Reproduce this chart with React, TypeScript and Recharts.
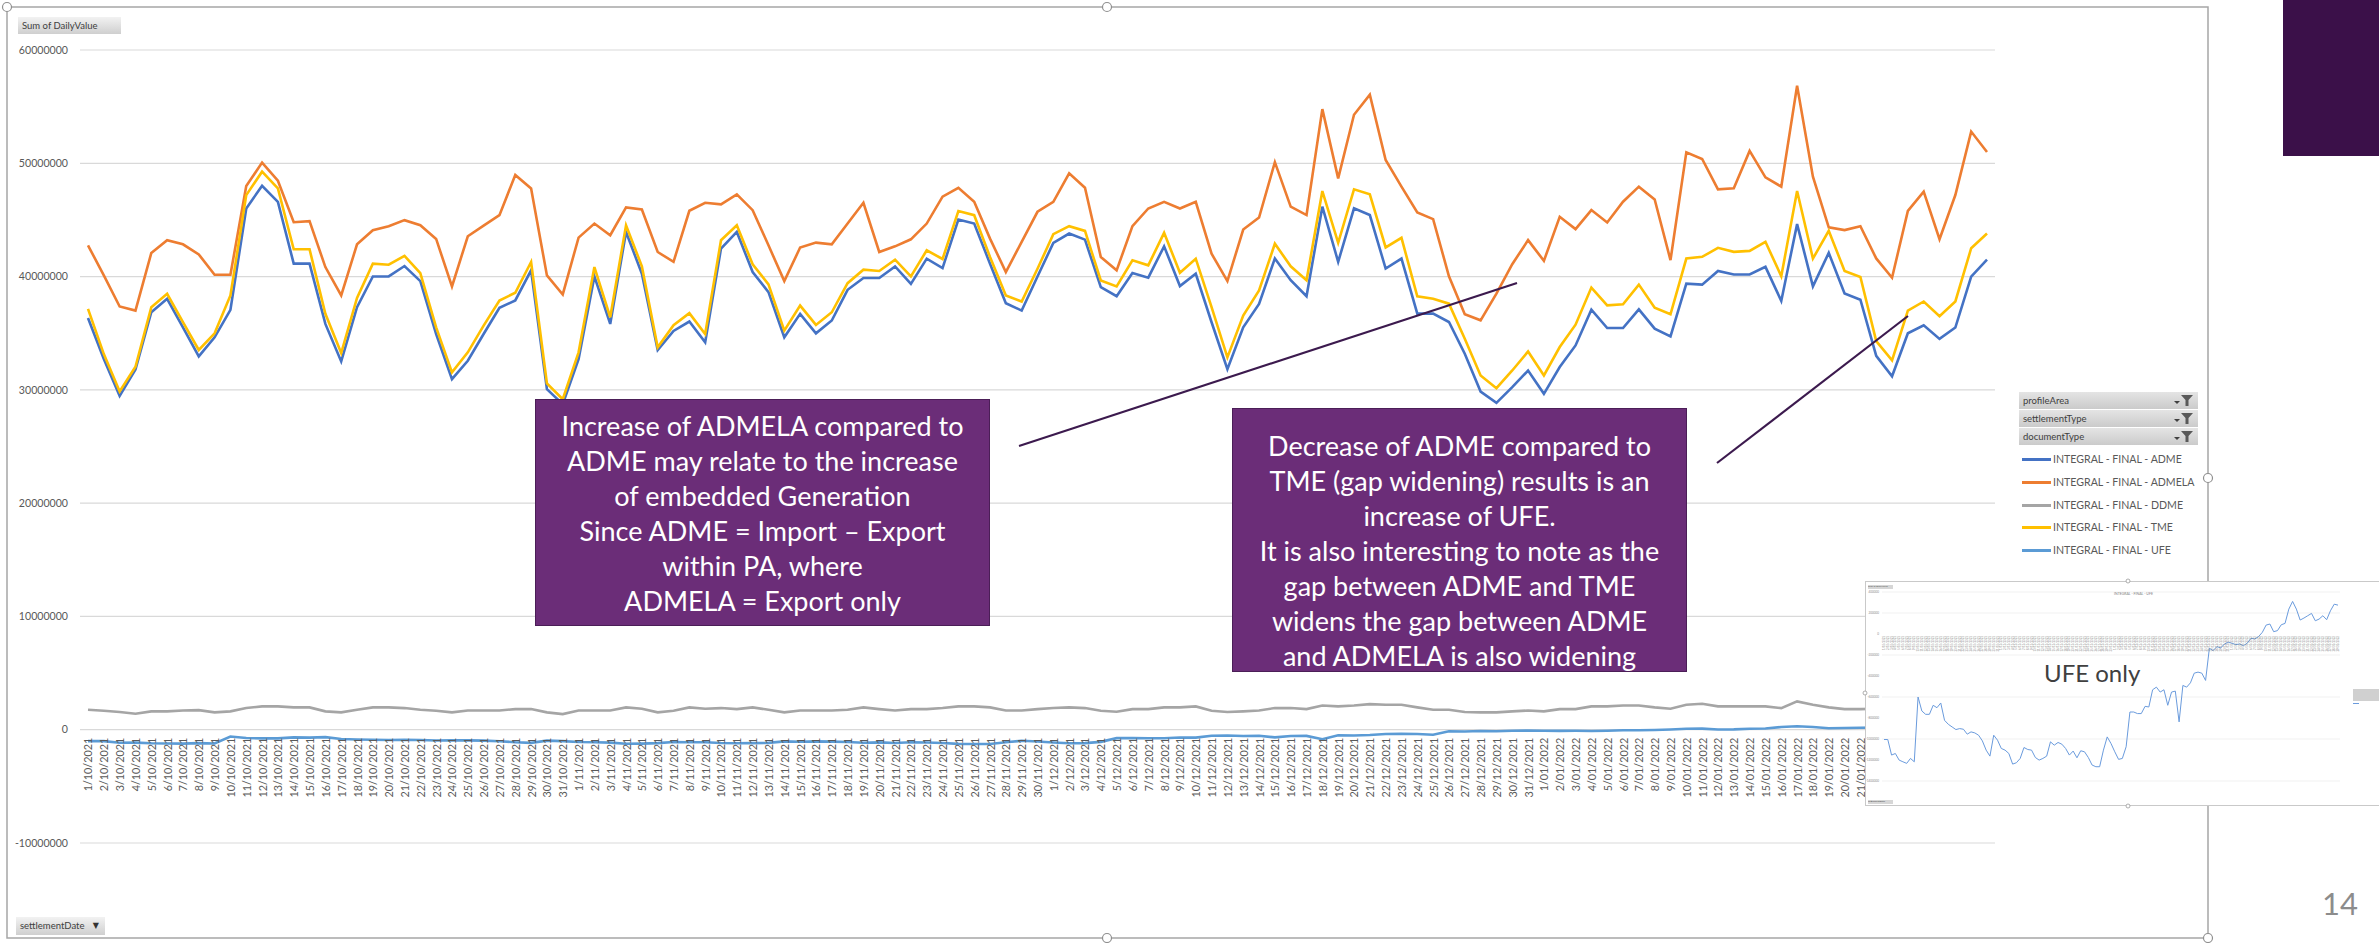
import React from 'react';
import { LineChart, Line, XAxis, YAxis, CartesianGrid } from 'recharts';

const FONT = 'Lato, "Open Sans", "DejaVu Sans", sans-serif';

const dates = [
  '1/10/2021','2/10/2021','3/10/2021','4/10/2021','5/10/2021','6/10/2021','7/10/2021','8/10/2021','9/10/2021','10/10/2021',
  '11/10/2021','12/10/2021','13/10/2021','14/10/2021','15/10/2021','16/10/2021','17/10/2021','18/10/2021','19/10/2021','20/10/2021',
  '21/10/2021','22/10/2021','23/10/2021','24/10/2021','25/10/2021','26/10/2021','27/10/2021','28/10/2021','29/10/2021','30/10/2021',
  '31/10/2021','1/11/2021','2/11/2021','3/11/2021','4/11/2021','5/11/2021','6/11/2021','7/11/2021','8/11/2021','9/11/2021',
  '10/11/2021','11/11/2021','12/11/2021','13/11/2021','14/11/2021','15/11/2021','16/11/2021','17/11/2021','18/11/2021','19/11/2021',
  '20/11/2021','21/11/2021','22/11/2021','23/11/2021','24/11/2021','25/11/2021','26/11/2021','27/11/2021','28/11/2021','29/11/2021',
  '30/11/2021','1/12/2021','2/12/2021','3/12/2021','4/12/2021','5/12/2021','6/12/2021','7/12/2021','8/12/2021','9/12/2021',
  '10/12/2021','11/12/2021','12/12/2021','13/12/2021','14/12/2021','15/12/2021','16/12/2021','17/12/2021','18/12/2021','19/12/2021',
  '20/12/2021','21/12/2021','22/12/2021','23/12/2021','24/12/2021','25/12/2021','26/12/2021','27/12/2021','28/12/2021','29/12/2021',
  '30/12/2021','31/12/2021','1/01/2022','2/01/2022','3/01/2022','4/01/2022','5/01/2022','6/01/2022','7/01/2022','8/01/2022',
  '9/01/2022','10/01/2022','11/01/2022','12/01/2022','13/01/2022','14/01/2022','15/01/2022','16/01/2022','17/01/2022','18/01/2022',
  '19/01/2022','20/01/2022','21/01/2022','22/01/2022','23/01/2022','24/01/2022','25/01/2022','26/01/2022','27/01/2022','28/01/2022',
  '29/01/2022',
];

const adme = [
  36.35e6,32.72e6,29.47e6,31.80e6,36.85e6,38.04e6,35.52e6,32.95e6,34.64e6,37.06e6,
  46.01e6,48.02e6,46.60e6,41.14e6,41.14e6,35.82e6,32.51e6,37.30e6,40.01e6,40.01e6,
  40.93e6,39.60e6,34.93e6,30.95e6,32.57e6,34.93e6,37.24e6,37.89e6,40.55e6,30.06e6,
  28.73e6,32.72e6,40.01e6,35.82e6,43.94e6,40.25e6,33.52e6,35.20e6,36.03e6,34.20e6,
  42.47e6,43.94e6,40.40e6,38.63e6,34.64e6,36.71e6,34.99e6,36.12e6,38.83e6,39.87e6,
  39.87e6,40.90e6,39.36e6,41.58e6,40.75e6,45.04e6,44.68e6,41.14e6,37.65e6,37.00e6,
  40.01e6,42.97e6,43.80e6,43.26e6,39.07e6,38.27e6,40.31e6,39.90e6,42.67e6,39.16e6,
  40.25e6,35.97e6,31.83e6,35.52e6,37.59e6,41.60e6,39.68e6,38.26e6,46.17e6,41.30e6,
  46.02e6,45.43e6,40.71e6,41.59e6,36.73e6,36.73e6,35.99e6,33.19e6,29.85e6,28.85e6,
  30.24e6,31.71e6,29.65e6,32.01e6,33.92e6,37.08e6,35.46e6,35.46e6,37.11e6,35.40e6,
  34.72e6,39.38e6,39.29e6,40.50e6,40.18e6,40.18e6,40.86e6,37.85e6,44.63e6,39.14e6,
  42.09e6,38.50e6,37.96e6,33.0e6,31.2e6,35.0e6,35.7e6,34.5e6,35.5e6,40.0e6,
  41.5e6,
];

const admela = [
  42.76e6,40.10e6,37.36e6,37.00e6,42.08e6,43.21e6,42.85e6,41.96e6,40.16e6,40.16e6,
  47.99e6,50.06e6,48.46e6,44.80e6,44.89e6,40.84e6,38.33e6,42.85e6,44.09e6,44.45e6,
  44.98e6,44.53e6,43.32e6,39.13e6,43.56e6,44.50e6,45.42e6,48.97e6,47.78e6,40.10e6,
  38.42e6,43.44e6,44.68e6,43.65e6,46.10e6,45.92e6,42.17e6,41.30e6,45.81e6,46.51e6,
  46.37e6,47.25e6,45.86e6,42.76e6,39.60e6,42.56e6,43.00e6,42.85e6,44.68e6,46.51e6,
  42.17e6,42.67e6,43.29e6,44.68e6,47.05e6,47.84e6,46.60e6,43.35e6,40.40e6,43.06e6,
  45.72e6,46.60e6,49.11e6,47.84e6,41.73e6,40.55e6,44.45e6,46.01e6,46.60e6,46.01e6,
  46.60e6,42.02e6,39.60e6,44.15e6,45.21e6,50.10e6,46.17e6,45.43e6,54.78e6,48.67e6,
  54.28e6,56.05e6,50.29e6,47.94e6,45.66e6,45.07e6,40.03e6,36.67e6,36.14e6,38.50e6,
  41.09e6,43.22e6,41.39e6,45.28e6,44.19e6,45.87e6,44.78e6,46.61e6,47.94e6,46.81e6,
  41.45e6,50.97e6,50.38e6,47.70e6,47.79e6,51.09e6,48.76e6,47.94e6,56.84e6,48.82e6,
  44.34e6,44.10e6,44.45e6,41.6e6,39.9e6,45.8e6,47.5e6,43.3e6,47.2e6,52.8e6,
  51.0e6,
];

const ddme = [
  1.76e6,1.67e6,1.56e6,1.41e6,1.62e6,1.62e6,1.70e6,1.73e6,1.53e6,1.62e6,
  1.91e6,2.06e6,2.06e6,1.97e6,1.97e6,1.62e6,1.53e6,1.76e6,1.97e6,1.97e6,
  1.91e6,1.76e6,1.67e6,1.53e6,1.70e6,1.70e6,1.70e6,1.82e6,1.82e6,1.53e6,
  1.38e6,1.70e6,1.70e6,1.70e6,1.97e6,1.85e6,1.53e6,1.67e6,1.97e6,1.85e6,
  1.91e6,1.82e6,1.97e6,1.76e6,1.53e6,1.70e6,1.70e6,1.70e6,1.76e6,1.97e6,
  1.82e6,1.70e6,1.82e6,1.82e6,1.91e6,2.06e6,2.06e6,1.97e6,1.70e6,1.70e6,
  1.82e6,1.91e6,1.97e6,1.91e6,1.67e6,1.59e6,1.82e6,1.82e6,1.97e6,1.97e6,
  2.06e6,1.67e6,1.56e6,1.62e6,1.70e6,1.91e6,1.91e6,1.82e6,2.14e6,2.06e6,
  2.14e6,2.26e6,2.20e6,2.20e6,1.97e6,1.76e6,1.76e6,1.56e6,1.53e6,1.53e6,
  1.62e6,1.70e6,1.62e6,1.82e6,1.82e6,2.06e6,2.06e6,2.14e6,2.14e6,1.97e6,
  1.85e6,2.20e6,2.29e6,2.06e6,2.06e6,2.06e6,2.06e6,1.91e6,2.50e6,2.20e6,
  1.97e6,1.82e6,1.82e6,1.85e6,1.90e6,1.95e6,2.00e6,1.90e6,1.85e6,1.80e6,
  1.80e6,
];

const tme = [
  37.15e6,33.16e6,29.85e6,32.04e6,37.30e6,38.48e6,35.97e6,33.52e6,34.99e6,38.33e6,
  47.19e6,49.26e6,47.78e6,42.41e6,42.41e6,36.71e6,33.25e6,38.12e6,41.14e6,41.05e6,
  41.82e6,40.31e6,35.52e6,31.54e6,33.31e6,35.67e6,37.89e6,38.57e6,41.29e6,30.56e6,
  29.17e6,33.31e6,40.84e6,36.41e6,44.53e6,40.90e6,33.75e6,35.70e6,36.77e6,34.93e6,
  43.21e6,44.53e6,41.08e6,39.31e6,35.23e6,37.44e6,35.73e6,36.85e6,39.42e6,40.61e6,
  40.49e6,41.49e6,40.01e6,42.32e6,41.55e6,45.78e6,45.42e6,41.73e6,38.33e6,37.80e6,
  40.69e6,43.74e6,44.45e6,44.03e6,39.66e6,39.13e6,41.43e6,40.99e6,43.86e6,40.34e6,
  41.58e6,37.30e6,32.87e6,36.56e6,38.77e6,42.90e6,40.91e6,39.68e6,47.55e6,42.98e6,
  47.70e6,47.26e6,42.57e6,43.42e6,38.26e6,38.05e6,37.61e6,34.51e6,31.27e6,30.15e6,
  31.71e6,33.39e6,31.27e6,33.78e6,35.75e6,39.03e6,37.46e6,37.55e6,39.29e6,37.26e6,
  36.67e6,41.59e6,41.74e6,42.54e6,42.18e6,42.27e6,43.07e6,40.03e6,47.55e6,41.59e6,
  44.04e6,40.50e6,39.97e6,34.3e6,32.6e6,37.0e6,37.8e6,36.5e6,37.8e6,42.5e6,
  43.8e6,
];

const ufe = [
  -1005e3,-1005e3,-1153e3,-1138e3,-1201e3,-1217e3,-1232e3,-1185e3,-1217e3,-600e3,
  -733e3,-765e3,-765e3,-679e3,-702e3,-657e3,-822e3,-860e3,-885e3,-910e3,
  -901e3,-907e3,-954e3,-932e3,-942e3,-964e3,-1018e3,-1106e3,-1163e3,-964e3,
  -1011e3,-1090e3,-1106e3,-1138e3,-1239e3,-1226e3,-1185e3,-1081e3,-1100e3,-1106e3,
  -1176e3,-1201e3,-1185e3,-1163e3,-1027e3,-1059e3,-1033e3,-1049e3,-1090e3,-1153e3,
  -1115e3,-1179e3,-1112e3,-1122e3,-1176e3,-1248e3,-1264e3,-1264e3,-1106e3,-980e3,
  -1043e3,-1122e3,-1194e3,-1185e3,-1074e3,-743e3,-743e3,-758e3,-758e3,-689e3,
  -695e3,-531e3,-506e3,-553e3,-531e3,-679e3,-553e3,-544e3,-837e3,-490e3,
  -506e3,-465e3,-373e3,-363e3,-373e3,-442e3,-136e3,-158e3,-120e3,-133e3,
  -95e3,-79e3,-88e3,-101e3,-95e3,-111e3,-88e3,-41e3,-47e3,-25e3,
  16e3,85e3,95e3,22e3,32e3,88e3,101e3,237e3,310e3,237e3,
  133e3,152e3,174e3,196e3,126e3,142e3,174e3,136e3,221e3,284e3,
  275e3,
];

const yTicks = [60000000, 50000000, 40000000, 30000000, 20000000, 10000000, 0, -10000000];
const insetTicks = [400000, 200000, 0, -200000, -400000, -600000, -800000, -1000000, -1200000, -1400000];

const seriesKeys = ['adme', 'admela', 'ddme', 'tme', 'ufe'];
const seriesNames = [
  'INTEGRAL - FINAL - ADME',
  'INTEGRAL - FINAL - ADMELA',
  'INTEGRAL - FINAL - DDME',
  'INTEGRAL - FINAL - TME',
  'INTEGRAL - FINAL - UFE',
];
const seriesColors = ['#4472C4', '#ED7D31', '#A5A5A5', '#FFC000', '#5B9BD5'];
const filterFields = ['profileArea', 'settlementType', 'documentType'];

const note1 = [
  'Increase of ADMELA compared to',
  'ADME may relate to the increase',
  'of embedded Generation',
  'Since ADME = Import \u2013 Export',
  'within PA, where',
  'ADMELA = Export only',
];
const note2 = [
  'Decrease of ADME compared to',
  'TME (gap widening) results is an',
  'increase of UFE.',
  'It is also interesting to note as the',
  'gap between ADME and TME',
  'widens the gap between ADME',
  'and ADMELA is also widening',
];

const rows = dates.map((d, i) => ({
  date: d,
  adme: adme[i],
  admela: admela[i],
  ddme: ddme[i],
  tme: tme[i],
  ufe: ufe[i],
}));

// main chart geometry
const M_TOP = 50;
const M_H = 943;
const M_XAXIS_H = 100;
const M_PLOT_H = M_H - M_TOP - M_XAXIS_H;
const Y_MIN = -10000000;
const Y_MAX = 60000000;
const mainZeroY = M_TOP + (M_PLOT_H * Y_MAX) / (Y_MAX - Y_MIN);

// inset geometry
const I_W = 520;
const I_H = 225;
const I_TOP = 11;
const I_XAXIS_H = 25;
const I_PLOT_H = I_H - I_TOP - I_XAXIS_H;
const I_MIN = -1400000;
const I_MAX = 400000;
const insetZeroY = I_TOP + (I_PLOT_H * I_MAX) / (I_MAX - I_MIN);

// selection handles of the chart object frame (slide decoration)
const frameHandles = [
  [7, 7], [1107, 7], [2208, 478], [2208, 938], [1107, 938],
];
const insetHandles = [[2128, 581], [1865, 693], [2128, 806]];

function DateTick(props: any) {
  const { x, payload } = props;
  const y = mainZeroY + 8;
  return (
    <text
      x={x}
      y={y}
      transform={`rotate(-90 ${x} ${y})`}
      textAnchor="end"
      dominantBaseline="central"
      fontSize={10.8}
      fill="#595959"
      fontFamily={FONT}
    >
      {payload.value}
    </text>
  );
}

function InsetDateTick(props: any) {
  const { x, payload } = props;
  const y = insetZeroY + 2;
  return (
    <text
      x={x}
      y={y}
      transform={`rotate(-90 ${x} ${y})`}
      textAnchor="end"
      dominantBaseline="central"
      fontSize={2.8}
      fill="#7f7f7f"
      fontFamily={FONT}
    >
      {payload.value}
    </text>
  );
}

function FunnelIcon() {
  return (
    <svg width={22} height={14} style={{ position: 'absolute', right: 3, top: 2 }}>
      <polygon points="1,7 7,7 4,10" fill="#404040" />
      <polygon points="8,1 20,1 15.5,6 15.5,12 12.5,12 12.5,6" fill="#595959" />
    </svg>
  );
}

const btnStyle: React.CSSProperties = {
  position: 'absolute',
  background: 'linear-gradient(#f2f2f2, #cfcfcf)',
  color: '#404040',
  fontFamily: FONT,
  fontSize: 9.5,
  lineHeight: '17px',
  paddingLeft: 4,
  boxSizing: 'border-box',
  whiteSpace: 'nowrap',
};

export default function App() {
  return (
    <div
      style={{
        position: 'absolute',
        left: 0,
        top: 0,
        width: 2379,
        height: 943,
        overflow: 'hidden',
        background: '#ffffff',
        fontFamily: FONT,
      }}
    >
      {/* slide decoration */}
      <div style={{ position: 'absolute', left: 2283, top: 0, width: 96, height: 156, background: '#3B1049' }} />
      <div style={{ position: 'absolute', left: 2322, top: 884, fontSize: 31, color: '#8c8c8c', fontFamily: FONT }}>14</div>

      {/* excel chart frame */}
      <svg width={2379} height={943} style={{ position: 'absolute', left: 0, top: 0 }}>
        <rect x={7} y={7} width={2201} height={931} fill="none" stroke="#a6a6a6" strokeWidth={1.5} />
      </svg>

      {/* main chart */}
      <div style={{ position: 'absolute', left: 0, top: 0 }}>
        <LineChart width={1995} height={M_H} data={rows} margin={{ top: M_TOP, right: 0, bottom: 0, left: 0 }}>
          <CartesianGrid vertical={false} stroke="#d9d9d9" strokeWidth={1.2} />
          <XAxis
            dataKey="date"
            interval={0}
            height={M_XAXIS_H}
            tickSize={0}
            tickMargin={0}
            axisLine={false}
            tickLine={false}
            padding={{ left: 8, right: 8 }}
            tick={(p: any) => <DateTick {...p} />}
          />
          <YAxis
            width={80}
            domain={[Y_MIN, Y_MAX]}
            ticks={yTicks}
            allowDataOverflow
            axisLine={false}
            tickLine={false}
            tickSize={0}
            tickMargin={12}
            tick={{ fontSize: 10.6, fill: '#595959', fontFamily: FONT }}
          />
          {seriesKeys.map((k, i) => (
            <Line
              key={k}
              type="linear"
              dataKey={k}
              name={seriesNames[i]}
              stroke={seriesColors[i]}
              strokeWidth={2.6}
              dot={false}
              isAnimationActive={false}
            />
          ))}
        </LineChart>
      </div>

      {/* pivot buttons */}
      <div style={{ ...btnStyle, left: 18, top: 17, width: 103, height: 17 }}>Sum of DailyValue</div>
      <div style={{ ...btnStyle, left: 16, top: 917, width: 89, height: 18 }}>
        settlementDate
        <span style={{ position: 'absolute', right: 6, top: 0, fontSize: 8, color: '#333' }}>{'\u25BC'}</span>
      </div>

      {/* legend with filter fields */}
      {filterFields.map((f, i) => (
        <div key={f} style={{ ...btnStyle, left: 2019, top: 392 + i * 18.2, width: 179, height: 17, background: 'linear-gradient(#e4e4e4, #cbcbcb)' }}>
          {f}
          <FunnelIcon />
        </div>
      ))}
      {seriesNames.map((n, i) => (
        <div key={n} style={{ position: 'absolute', left: 2022, top: 451 + i * 22.8, height: 16, whiteSpace: 'nowrap' }}>
          <div style={{ position: 'absolute', left: 0, top: 7, width: 29, height: 3, background: seriesColors[i] }} />
          <div style={{ position: 'absolute', left: 31, top: 0, fontSize: 10.6, lineHeight: '16px', color: '#595959', fontFamily: FONT }}>{n}</div>
        </div>
      ))}

      {/* connectors and frame handles */}
      <svg width={2379} height={943} style={{ position: 'absolute', left: 0, top: 0 }}>
        <line x1={1019} y1={446} x2={1517} y2={283} stroke="#3C1A4E" strokeWidth={2.2} />
        <line x1={1717} y1={463} x2={1908} y2={316} stroke="#3C1A4E" strokeWidth={2.2} />
        {frameHandles.map(([hx, hy], i) => (
          <circle key={i} cx={hx} cy={hy} r={4.5} fill="#ffffff" stroke="#8f8f8f" strokeWidth={1.2} />
        ))}
      </svg>

      {/* annotation boxes */}
      <div
        style={{
          position: 'absolute', left: 535, top: 399, width: 455, height: 227, boxSizing: 'border-box',
          background: '#6B2D78', border: '1.5px solid #4B1E57', color: '#ffffff', fontSize: 27,
          lineHeight: '35px', textAlign: 'center', paddingTop: 8, fontFamily: FONT,
        }}
      >
        {note1.map((t) => (<div key={t}>{t}</div>))}
      </div>
      <div
        style={{
          position: 'absolute', left: 1232, top: 408, width: 455, height: 264, boxSizing: 'border-box',
          background: '#6B2D78', border: '1.5px solid #4B1E57', color: '#ffffff', fontSize: 27,
          lineHeight: '35px', textAlign: 'center', paddingTop: 19, fontFamily: FONT,
        }}
      >
        {note2.map((t) => (<div key={t}>{t}</div>))}
      </div>

      {/* UFE-only inset */}
      <div
        style={{
          position: 'absolute', left: 1865, top: 581, width: I_W, height: I_H, background: '#ffffff',
          border: '1px solid #c9c9c9', boxSizing: 'border-box', overflow: 'hidden',
        }}
      >
        <div style={{ position: 'absolute', left: -1, top: -1 }}>
          <LineChart width={I_W} height={I_H} data={rows} margin={{ top: I_TOP, right: 45, bottom: 0, left: 0 }}>
            <CartesianGrid vertical={false} stroke="#ededed" strokeWidth={0.8} />
            <XAxis
              dataKey="date"
              interval={0}
              height={I_XAXIS_H}
              tickSize={0}
              tickMargin={0}
              axisLine={false}
              tickLine={false}
              padding={{ left: 2, right: 2 }}
              tick={(p: any) => <InsetDateTick {...p} />}
            />
            <YAxis
              width={17}
              domain={[I_MIN, I_MAX]}
              ticks={insetTicks}
              allowDataOverflow
              axisLine={false}
              tickLine={false}
              tickSize={0}
              tickMargin={3}
              tick={{ fontSize: 3, fill: '#8c8c8c', fontFamily: FONT }}
            />
            <Line type="linear" dataKey="ufe" name={seriesNames[4]} stroke="#6A9BDD" strokeWidth={1} dot={false} isAnimationActive={false} />
          </LineChart>
        </div>
        <div style={{ position: 'absolute', left: 2, top: 3, width: 25, height: 4, background: '#d6d6d6', fontSize: 2.5, lineHeight: '4px', color: '#555', whiteSpace: 'nowrap', overflow: 'hidden' }}>Sum of DailyValue</div>
        <div style={{ position: 'absolute', left: 2, top: 218, width: 25, height: 4, background: '#d6d6d6', fontSize: 2.5, lineHeight: '4px', color: '#555', whiteSpace: 'nowrap', overflow: 'hidden' }}>settlementDate</div>
        <div style={{ position: 'absolute', left: 248, top: 10, fontSize: 3.5, color: '#7f7f7f', whiteSpace: 'nowrap' }}>{seriesNames[4]}</div>
        <div style={{ position: 'absolute', left: 487, top: 107, width: 40, height: 3.5, background: '#d0d0d0' }} />
        <div style={{ position: 'absolute', left: 487, top: 111, width: 40, height: 3.5, background: '#d0d0d0' }} />
        <div style={{ position: 'absolute', left: 487, top: 115, width: 40, height: 3.5, background: '#d0d0d0' }} />
        <div style={{ position: 'absolute', left: 487, top: 121, width: 6, height: 1, background: '#6A9BDD' }} />
        <div style={{ position: 'absolute', left: 178, top: 76, fontSize: 24, lineHeight: '30px', color: '#404040', fontFamily: FONT, whiteSpace: 'nowrap' }}>UFE only</div>
      </div>
      <svg width={2379} height={943} style={{ position: 'absolute', left: 0, top: 0, pointerEvents: 'none' }}>
        {insetHandles.map(([hx, hy], i) => (
          <circle key={i} cx={hx} cy={hy} r={2} fill="#ffffff" stroke="#9a9a9a" strokeWidth={0.8} />
        ))}
      </svg>
    </div>
  );
}
